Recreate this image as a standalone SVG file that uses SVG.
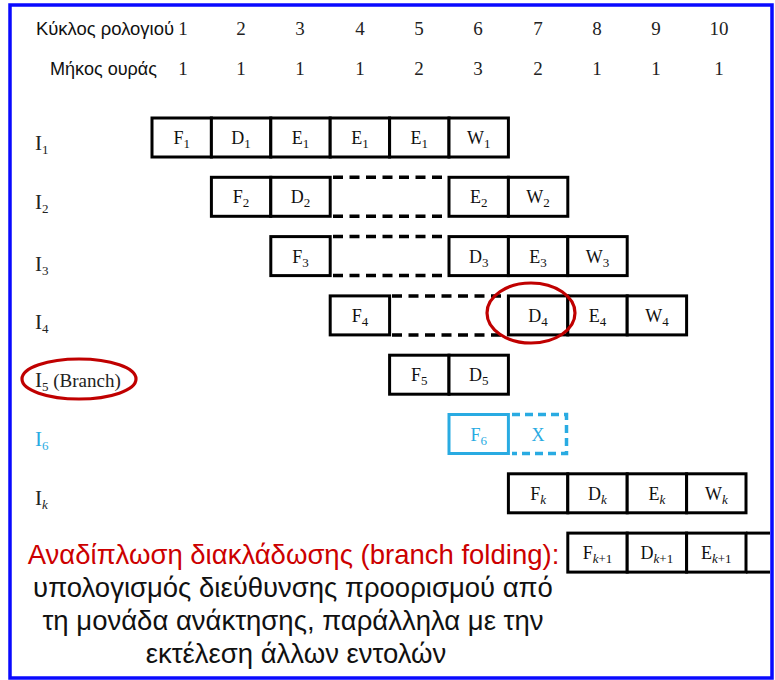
<svg xmlns="http://www.w3.org/2000/svg" width="775" height="680" viewBox="0 0 775 680">
<style>
.cell{fill:#fff;stroke:#000;stroke-width:3}
.ccell{fill:#fff;stroke:#29abe2;stroke-width:3}
.dash{stroke:#000;stroke-width:3.5;stroke-dasharray:10 6.5;fill:none}
.cdash{stroke:#29abe2;stroke-width:3.5;stroke-dasharray:8 5;fill:none}
.t{font-family:"Liberation Serif","Times New Roman",serif;font-size:18px;fill:#111;text-anchor:middle}
.ct{font-family:"Liberation Serif","Times New Roman",serif;font-size:18px;fill:#29abe2;text-anchor:middle}
.lbl{font-family:"Liberation Serif","Times New Roman",serif;font-size:21px;fill:#222}
.hd{font-family:"Liberation Serif","Times New Roman",serif;font-size:19px;fill:#222;text-anchor:middle}
.gk{font-family:"Liberation Sans",Arial,sans-serif;font-size:18px;fill:#111}
.big{font-family:"Liberation Sans",Arial,sans-serif;font-size:27.5px;fill:#111;text-anchor:middle}
.sub{font-size:13px}
.ring{fill:none;stroke:#c00000;stroke-width:3.2}
</style>
<rect x="10" y="5" width="762" height="673" fill="#fff" stroke="#0a0aff" stroke-width="3.5"/>

<g id="header">
<text class="gk" x="36" y="35" textLength="138" lengthAdjust="spacingAndGlyphs">Κύκλος ρολογιού</text>
<text class="hd" x="183" y="35">1</text><text class="hd" x="241" y="35">2</text><text class="hd" x="300" y="35">3</text><text class="hd" x="360" y="35">4</text><text class="hd" x="419" y="35">5</text><text class="hd" x="478" y="35">6</text><text class="hd" x="538" y="35">7</text><text class="hd" x="597" y="35">8</text><text class="hd" x="656" y="35">9</text><text class="hd" x="719" y="35">10</text>
<text class="gk" x="50" y="75" textLength="107" lengthAdjust="spacingAndGlyphs">Μήκος ουράς</text>
<text class="hd" x="183" y="75">1</text><text class="hd" x="241" y="75">1</text><text class="hd" x="300" y="75">1</text><text class="hd" x="360" y="75">1</text><text class="hd" x="419" y="75">2</text><text class="hd" x="478" y="75">3</text><text class="hd" x="538" y="75">2</text><text class="hd" x="597" y="75">1</text><text class="hd" x="656" y="75">1</text><text class="hd" x="719" y="75">1</text>
</g>

<g id="I1">
<text class="lbl" x="35" y="150">I<tspan class="sub" dy="4">1</tspan></text>
<rect class="cell" x="152" y="118" width="59.4" height="39"/><rect class="cell" x="211.4" y="118" width="59.4" height="39"/><rect class="cell" x="270.8" y="118" width="59.4" height="39"/><rect class="cell" x="330.2" y="118" width="59.4" height="39"/><rect class="cell" x="389.6" y="118" width="59.4" height="39"/><rect class="cell" x="449" y="118" width="59.4" height="39"/>
<text class="t" x="181.7" y="144">F<tspan class="sub" dy="4">1</tspan></text>
<text class="t" x="241.1" y="144">D<tspan class="sub" dy="4">1</tspan></text>
<text class="t" x="300.5" y="144">E<tspan class="sub" dy="4">1</tspan></text>
<text class="t" x="359.9" y="144">E<tspan class="sub" dy="4">1</tspan></text>
<text class="t" x="419.3" y="144">E<tspan class="sub" dy="4">1</tspan></text>
<text class="t" x="478.7" y="144">W<tspan class="sub" dy="4">1</tspan></text>
</g>

<g id="I2">
<text class="lbl" x="35" y="209">I<tspan class="sub" dy="4">2</tspan></text>
<rect class="cell" x="211.4" y="177.3" width="59.4" height="39"/><rect class="cell" x="270.8" y="177.3" width="59.4" height="39"/>
<rect class="cell" x="449" y="177.3" width="59.4" height="39"/><rect class="cell" x="508.4" y="177.3" width="59.4" height="39"/>
<text class="t" x="241.1" y="203.3">F<tspan class="sub" dy="4">2</tspan></text>
<text class="t" x="300.5" y="203.3">D<tspan class="sub" dy="4">2</tspan></text>
<text class="t" x="478.7" y="203.3">E<tspan class="sub" dy="4">2</tspan></text>
<text class="t" x="538.1" y="203.3">W<tspan class="sub" dy="4">2</tspan></text>
</g>

<g id="I3">
<text class="lbl" x="35" y="271">I<tspan class="sub" dy="4">3</tspan></text>
<rect class="cell" x="270.8" y="236.6" width="59.4" height="39"/>
<rect class="cell" x="449" y="236.6" width="59.4" height="39"/><rect class="cell" x="508.4" y="236.6" width="59.4" height="39"/><rect class="cell" x="567.8" y="236.6" width="59.4" height="39"/>
<text class="t" x="300.5" y="262.6">F<tspan class="sub" dy="4">3</tspan></text>
<text class="t" x="478.7" y="262.6">D<tspan class="sub" dy="4">3</tspan></text>
<text class="t" x="538.1" y="262.6">E<tspan class="sub" dy="4">3</tspan></text>
<text class="t" x="597.5" y="262.6">W<tspan class="sub" dy="4">3</tspan></text>
</g>

<g id="I4">
<text class="lbl" x="35" y="329">I<tspan class="sub" dy="4">4</tspan></text>
<rect class="cell" x="330.2" y="295.9" width="59.4" height="39"/>
<rect class="cell" x="508.4" y="295.9" width="59.4" height="39"/><rect class="cell" x="567.8" y="295.9" width="59.4" height="39"/><rect class="cell" x="627.2" y="295.9" width="59.4" height="39"/>
<text class="t" x="359.9" y="321.9">F<tspan class="sub" dy="4">4</tspan></text>
<text class="t" x="538.1" y="321.9">D<tspan class="sub" dy="4">4</tspan></text>
<text class="t" x="597.5" y="321.9">E<tspan class="sub" dy="4">4</tspan></text>
<text class="t" x="656.9" y="321.9">W<tspan class="sub" dy="4">4</tspan></text>
</g>

<g id="I5">
<text class="lbl" x="35" y="387">I<tspan class="sub" dy="4">5</tspan><tspan font-size="19" dy="-4"> (Branch)</tspan></text>
<rect class="cell" x="389.6" y="355.2" width="59.4" height="39"/><rect class="cell" x="449" y="355.2" width="59.4" height="39"/>
<text class="t" x="419.3" y="381.2">F<tspan class="sub" dy="4">5</tspan></text>
<text class="t" x="478.7" y="381.2">D<tspan class="sub" dy="4">5</tspan></text>
</g>

<g id="I6">
<text class="lbl" x="35" y="446" style="fill:#29abe2">I<tspan class="sub" dy="4">6</tspan></text>
<rect class="ccell" x="449" y="414.5" width="59.4" height="39"/>
<text class="ct" x="478.7" y="440.5">F<tspan class="sub" dy="4">6</tspan></text>
<text class="ct" x="538.1" y="440.5">X</text>
</g>

<g id="Ik">
<text class="lbl" x="35" y="505">I<tspan class="sub" dy="4" font-style="italic">k</tspan></text>
<rect class="cell" x="508.4" y="473.8" width="59.4" height="39"/><rect class="cell" x="567.8" y="473.8" width="59.4" height="39"/><rect class="cell" x="627.2" y="473.8" width="59.4" height="39"/><rect class="cell" x="686.6" y="473.8" width="59.4" height="39"/>
<text class="t" x="538.1" y="499.8">F<tspan class="sub" dy="4" font-style="italic">k</tspan></text>
<text class="t" x="597.5" y="499.8">D<tspan class="sub" dy="4" font-style="italic">k</tspan></text>
<text class="t" x="656.9" y="499.8">E<tspan class="sub" dy="4" font-style="italic">k</tspan></text>
<text class="t" x="716.3" y="499.8">W<tspan class="sub" dy="4" font-style="italic">k</tspan></text>
</g>

<g id="Ik1">
<rect class="cell" x="567.8" y="533.1" width="59.4" height="39"/><rect class="cell" x="627.2" y="533.1" width="59.4" height="39"/><rect class="cell" x="686.6" y="533.1" width="59.4" height="39"/>
<line x1="746" y1="533.1" x2="770" y2="533.1" stroke="#000" stroke-width="3"/>
<line x1="746" y1="572.1" x2="770" y2="572.1" stroke="#000" stroke-width="3"/>
<text class="t" x="597.5" y="559.1">F<tspan class="sub" dy="4"><tspan font-style="italic">k</tspan>+1</tspan></text>
<text class="t" x="656.9" y="559.1">D<tspan class="sub" dy="4"><tspan font-style="italic">k</tspan>+1</tspan></text>
<text class="t" x="716.3" y="559.1">E<tspan class="sub" dy="4"><tspan font-style="italic">k</tspan>+1</tspan></text>
</g>

<g id="connectors">
<line class="dash" x1="333" y1="177.3" x2="447" y2="177.3"/><line class="dash" x1="333" y1="216.3" x2="447" y2="216.3"/>
<line class="dash" x1="333" y1="236.6" x2="447" y2="236.6"/><line class="dash" x1="333" y1="275.6" x2="447" y2="275.6"/>
<line class="dash" x1="392" y1="295.9" x2="507" y2="295.9"/><line class="dash" x1="392" y1="334.9" x2="507" y2="334.9"/>
<path class="cdash" d="M512 414.5 H566.5 V453.5 H512"/>
</g>

<g id="highlights">
<ellipse class="ring" cx="531" cy="313" rx="44" ry="30"/>
<ellipse class="ring" cx="79" cy="379" rx="57" ry="20"/>
</g>

<g id="note">
<text class="big" x="293.5" y="564" style="fill:#cc0000">Αναδίπλωση διακλάδωσης (branch folding):</text>
<text class="big" x="293" y="597">υπολογισμός διεύθυνσης προορισμού από</text>
<text class="big" x="293" y="630">τη μονάδα ανάκτησης, παράλληλα με την</text>
<text class="big" x="296" y="663">εκτέλεση άλλων εντολών</text>
</g>
</svg>
